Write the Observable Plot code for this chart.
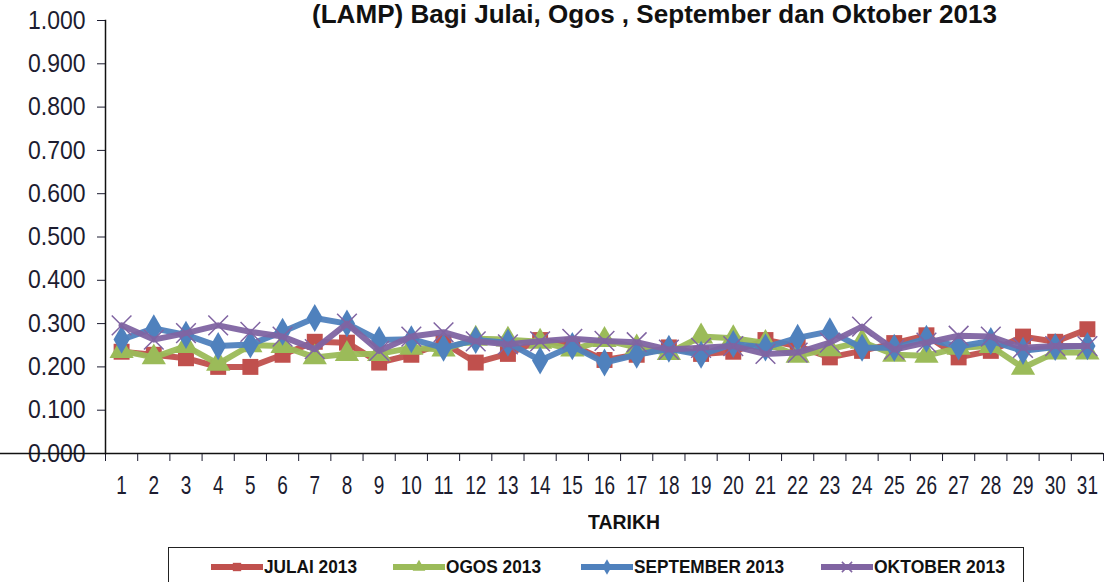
<!DOCTYPE html>
<html>
<head>
<meta charset="utf-8">
<script src="https://cdn.jsdelivr.net/npm/d3@7"></script>
<script src="https://cdn.jsdelivr.net/npm/@observablehq/plot@0.6"></script>
<style>
  html, body { margin: 0; padding: 0; background: #fff; }
  #wrap { position: relative; width: 1110px; height: 582px; overflow: hidden; font-family: "Liberation Sans", Arial, sans-serif; }
  #title { position: absolute; top: 0px; left: 312px; font-weight: bold; font-size: 25px; color: #111; white-space: nowrap; transform-origin: 0 0; }
  #xlabel { position: absolute; top: 510px; left: 588px; font-weight: bold; font-size: 21px; color: #111; white-space: nowrap; transform-origin: 0 0; }
  #legend { position: absolute; left: 168px; top: 547px; width: 856px; height: 60px; border: 1.5px solid #222; box-sizing: border-box; }
  .item { position: absolute; top: 8px; height: 22px; display: flex; align-items: center; font-weight: bold; font-size: 18px; color: #111; white-space: nowrap; }
  .item span { display: inline-block; transform-origin: 0 50%; }
</style>
</head>
<body>
<div id="wrap">
  <div id="chart"></div>
  <div id="title">(LAMP) Bagi Julai, Ogos , September dan Oktober 2013</div>
  <div id="xlabel">TARIKH</div>
  <div id="legend"></div>
</div>
<script>
const days = [1,2,3,4,5,6,7,8,9,10,11,12,13,14,15,16,17,18,19,20,21,22,23,24,25,26,27,28,29,30,31];
const yTicks = [0, 0.1, 0.2, 0.3, 0.4, 0.5, 0.6, 0.7, 0.8, 0.9, 1.0];
const seriesNames = ["JULAI 2013", "OGOS 2013", "SEPTEMBER 2013", "OKTOBER 2013"];

const julai = [0.235, 0.228, 0.22, 0.20, 0.20, 0.228, 0.258, 0.256, 0.21, 0.228, 0.256, 0.21, 0.23, 0.262, 0.25, 0.216, 0.228, 0.245, 0.23, 0.235, 0.262, 0.248, 0.222, 0.237, 0.255, 0.273, 0.222, 0.237, 0.27, 0.258, 0.287];
const ogos = [0.237, 0.222, 0.248, 0.207, 0.25, 0.248, 0.222, 0.23, 0.23, 0.244, 0.24, 0.265, 0.263, 0.258, 0.24, 0.262, 0.245, 0.232, 0.27, 0.266, 0.255, 0.226, 0.241, 0.258, 0.228, 0.226, 0.244, 0.248, 0.198, 0.233, 0.233];
const september = [0.263, 0.289, 0.274, 0.248, 0.252, 0.281, 0.313, 0.30, 0.262, 0.264, 0.244, 0.262, 0.256, 0.215, 0.248, 0.21, 0.228, 0.242, 0.228, 0.253, 0.245, 0.267, 0.282, 0.244, 0.244, 0.265, 0.247, 0.26, 0.237, 0.246, 0.248];
const oktober = [0.296, 0.263, 0.278, 0.296, 0.281, 0.27, 0.241, 0.30, 0.237, 0.27, 0.28, 0.259, 0.252, 0.259, 0.265, 0.26, 0.257, 0.24, 0.244, 0.248, 0.23, 0.233, 0.256, 0.293, 0.24, 0.256, 0.272, 0.27, 0.244, 0.248, 0.248];

const colors = ["#C0504D", "#9BBB59", "#4F81BD", "#8064A2"];
const symbols = ["square", "triangle", "diamond", "times"];
const values = [julai, ogos, september, oktober];

const boundaries = [0.5].concat(days.map(d => d + 0.5));

const series = seriesNames.map((name, i) => ({
  name, color: colors[i], symbol: symbols[i],
  data: days.map((d, j) => ({day: d, value: values[i][j]}))
}));

const marks = [
  Plot.axisY({ticks: yTicks, tickFormat: d3.format(".3f"), tickSize: 8, tickPadding: 12, fontSize: 23, label: null}),
  Plot.axisX({ticks: boundaries, tickFormat: () => "", tickSize: 8, label: null}),
  Plot.axisX({ticks: days, tickFormat: d => String(d), tickSize: 0, tickPadding: 22, fontSize: 19, label: null}),
];
for (const s of series) {
  marks.push(Plot.line(s.data, {x: "day", y: "value", stroke: s.color, strokeWidth: 6, strokeOpacity: 0.95}));
  if (s.symbol === "times") {
    marks.push(Plot.dot(s.data, {x: "day", y: "value", symbol: "times", r: 9, stroke: s.color, strokeWidth: 1.5}));
  } else {
    marks.push(Plot.dot(s.data, {x: "day", y: "value", symbol: s.symbol, r: s.symbol === "diamond" ? 8.5 : 9, fill: s.color, stroke: "none"}));
  }
}
marks.push(Plot.ruleY([0], {insetLeft: -105, stroke: "#111", strokeWidth: 1.5}));
marks.push(Plot.frame({anchor: "left", stroke: "#111", strokeWidth: 1.5}));

const chart = Plot.plot({
  width: 1110,
  height: 582,
  marginLeft: 105,
  marginRight: 7,
  marginTop: 20,
  marginBottom: 129,
  x: {type: "linear", domain: [0.5, 31.5]},
  y: {domain: [0, 1]},
  style: {fontFamily: '"Liberation Sans", Arial, sans-serif', color: "#1c1c30", background: "#fff", overflow: "visible"},
  marks
});
document.getElementById("chart").appendChild(chart);

// vertical stretch of tick labels, as in the reference
function stretch(sel, sy) {
  chart.querySelectorAll(sel).forEach(t => {
    let tr = t.getAttribute("transform");
    if (!tr) {
      const x = +(t.getAttribute("x") || 0), y = +(t.getAttribute("y") || 0);
      t.removeAttribute("x"); t.removeAttribute("y");
      tr = `translate(${x},${y})`;
    }
    t.setAttribute("transform", tr + ` scale(1,${sy})`);
  });
}
stretch('g[aria-label="x-axis tick label"] text', 1.35);
stretch('g[aria-label="y-axis tick label"] text', 1.1);

function fitWidth(el, target) {
  const w = el.getBoundingClientRect().width;
  if (w > 0) el.style.transform = `scaleX(${target / w})`;
}
fitWidth(document.getElementById("title"), 685);
fitWidth(document.getElementById("xlabel"), 72);

// legend
const legend = document.getElementById("legend");
const lefts = [42, 224, 412, 652];
const textWidths = [93, 95, 150, 131];
series.forEach((s, i) => {
  const item = document.createElement("div");
  item.className = "item";
  item.style.left = lefts[i] + "px";
  const svg = d3.create("svg").attr("width", 52).attr("height", 20).style("margin-right", "1px");
  svg.append("line").attr("x1", 0).attr("x2", 52).attr("y1", 10).attr("y2", 10).attr("stroke", s.color).attr("stroke-width", 6);
  const sym = {square: d3.symbolSquare, triangle: d3.symbolTriangle, diamond: d3.symbolDiamond, times: d3.symbolTimes}[s.symbol];
  const p = svg.append("path").attr("transform", "translate(26,10)").attr("d", d3.symbol(sym, 70)());
  if (s.symbol === "times") p.attr("fill", "none").attr("stroke", s.color).attr("stroke-width", 1.5);
  else p.attr("fill", s.color);
  item.appendChild(svg.node());
  const t = document.createElement("span");
  t.textContent = s.name;
  item.appendChild(t);
  legend.appendChild(item);
  fitWidth(t, textWidths[i]);
});
</script>
</body>
</html>
